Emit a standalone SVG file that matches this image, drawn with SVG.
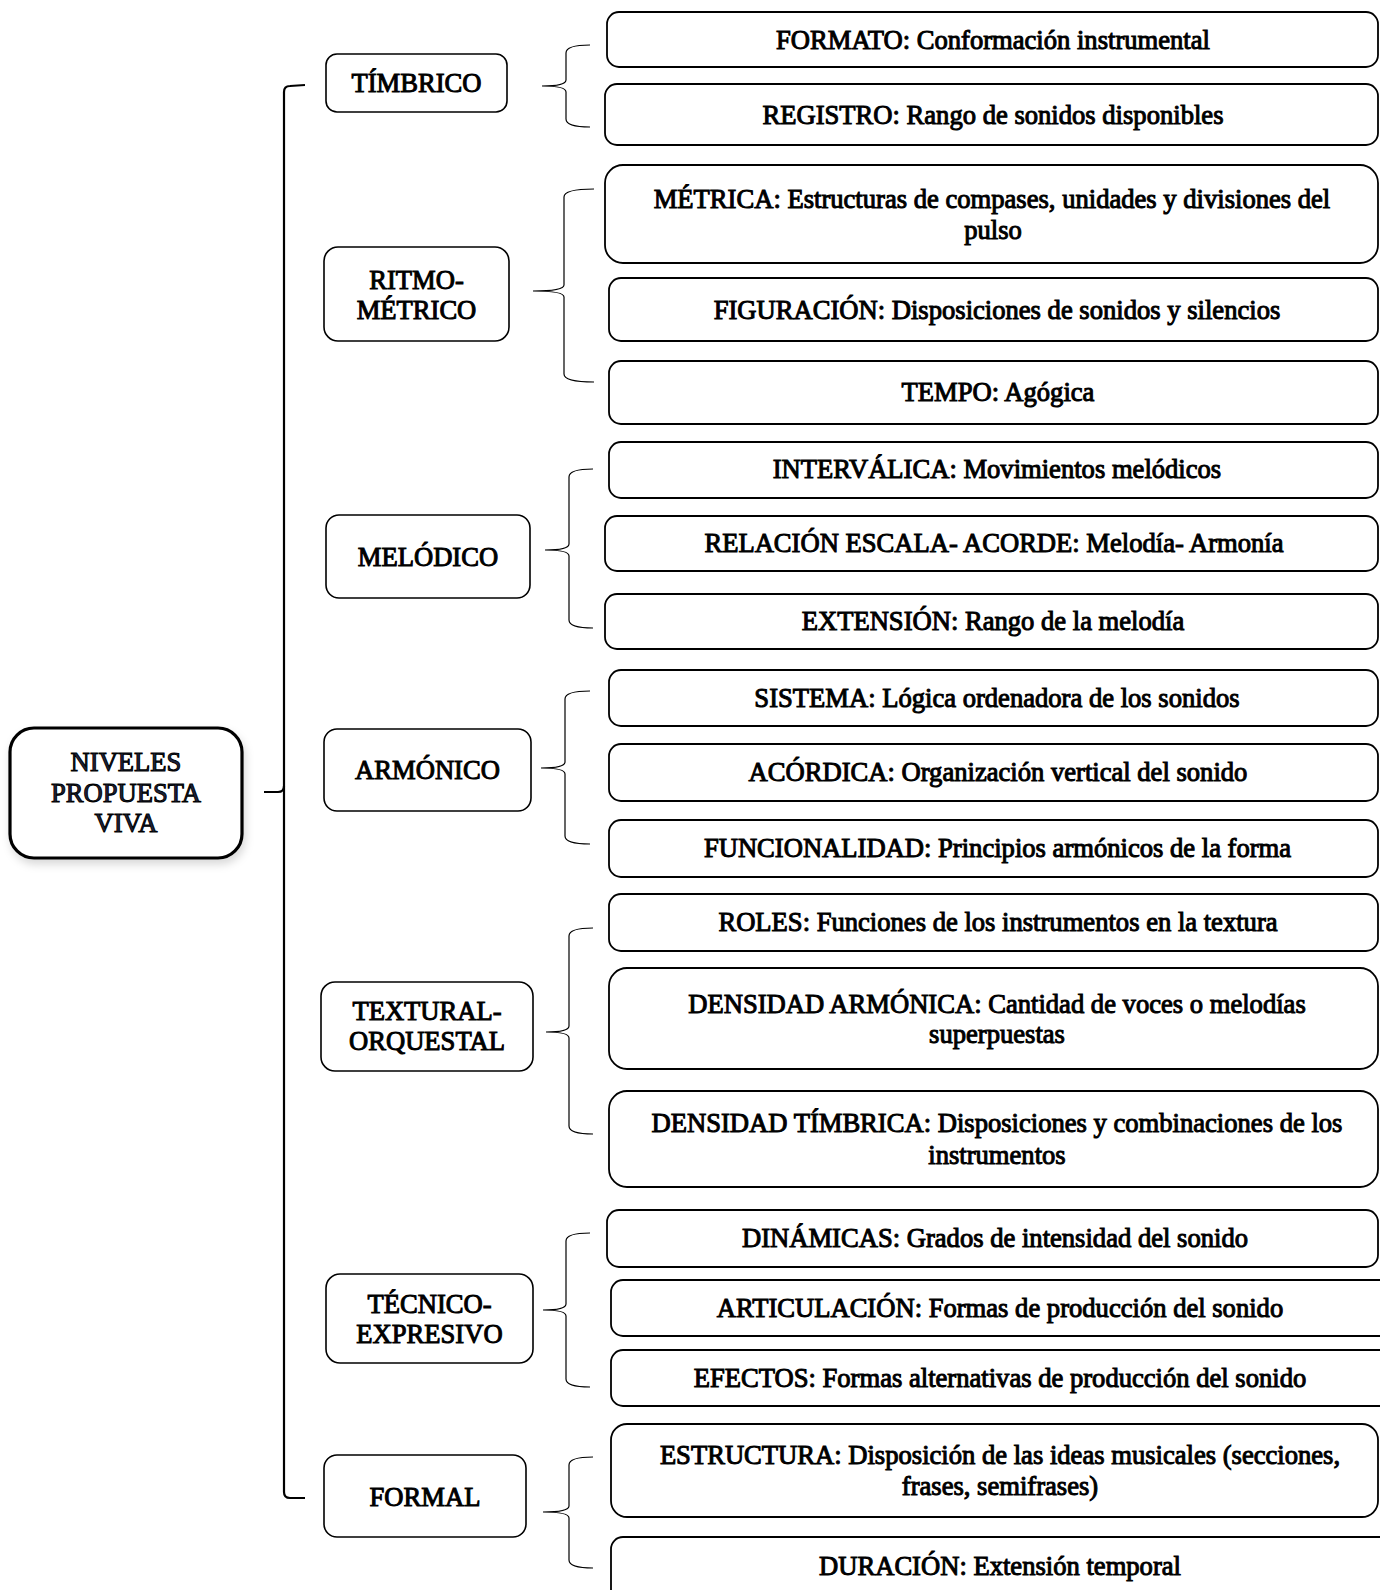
<svg xmlns="http://www.w3.org/2000/svg" width="1380" height="1590" viewBox="0 0 1380 1590">
<defs>
<filter id="sh" x="-10%" y="-10%" width="130%" height="130%">
<feDropShadow dx="2" dy="5" stdDeviation="4" flood-color="#000" flood-opacity="0.15"/>
</filter>
<style>
.t{font-family:"Liberation Serif","Times New Roman",serif;font-size:26.6px;fill:#000;stroke:#000;stroke-width:1;text-anchor:middle}
.r{fill:#1b2540}
.b2{fill:#fff;stroke:#000;stroke-width:1.6}
.lf{fill:#fff;stroke:#000;stroke-width:1.8}
.root{fill:#fff;stroke:#000;stroke-width:3.2}
.br{fill:none;stroke:#000;stroke-width:1.2}
.mb{fill:none;stroke:#000;stroke-width:2.2}
</style>
</defs>
<rect width="1380" height="1590" fill="#fff"/>

<g id="connectors">
<path class="mb" d="M305,85 L290,86 Q284,86 284,92 L284,1492 Q284,1498 290,1498 L305,1498"/>
<path class="mb" d="M264,792 L278,792 Q284,792 284,786"/>
<path class="br" d="M590,45 Q566,45 566,53 L566,80 Q566,86 542,86 Q566,86 566,92 L566,119 Q566,127 590,127"/>
<path class="br" d="M594,189 Q564,189 564,197 L564,285 Q564,291 533,291 Q564,291 564,297 L564,374 Q564,382 594,382"/>
<path class="br" d="M593,469 Q569,469 569,477 L569,544 Q569,550 545,550 Q569,550 569,556 L569,620 Q569,628 593,628"/>
<path class="br" d="M590,691 Q565,691 565,699 L565,762 Q565,768 541,768 Q565,768 565,774 L565,836 Q565,844 590,844"/>
<path class="br" d="M593,928 Q569,928 569,936 L569,1026 Q569,1032 546,1032 Q569,1032 569,1038 L569,1126 Q569,1134 593,1134"/>
<path class="br" d="M590,1233 Q566,1233 566,1241 L566,1304 Q566,1310 543,1310 Q566,1310 566,1316 L566,1379 Q566,1387 590,1387"/>
<path class="br" d="M593,1457 Q569,1457 569,1465 L569,1506 Q569,1512 543,1512 Q569,1512 569,1518 L569,1560 Q569,1568 593,1568"/>
</g>

<g id="root">
<rect class="root" x="10" y="728" width="232" height="130" rx="24" filter="url(#sh)"/>
<text class="t r" x="126" y="771">NIVELES</text>
<text class="t r" x="126" y="802">PROPUESTA</text>
<text class="t r" x="126" y="832">VIVA</text>
</g>

<g id="timbrico">
<rect class="b2" x="326" y="54" width="181" height="58" rx="11"/>
<text class="t" x="416.5" y="92">TÍMBRICO</text>
</g>
<g id="ritmo">
<rect class="b2" x="324" y="247" width="185" height="94" rx="14"/>
<text class="t" x="416.5" y="289">RITMO-</text>
<text class="t" x="416.5" y="319">MÉTRICO</text>
</g>
<g id="melodico">
<rect class="b2" x="326" y="515" width="204" height="83" rx="13"/>
<text class="t" x="428" y="566">MELÓDICO</text>
</g>
<g id="armonico">
<rect class="b2" x="324" y="729" width="207" height="82" rx="13"/>
<text class="t" x="427.5" y="779">ARMÓNICO</text>
</g>
<g id="textural">
<rect class="b2" x="321" y="982" width="212" height="89" rx="14"/>
<text class="t" x="427" y="1020">TEXTURAL-</text>
<text class="t" x="427" y="1050">ORQUESTAL</text>
</g>
<g id="tecnico">
<rect class="b2" x="326" y="1274" width="207" height="89" rx="14"/>
<text class="t" x="429.5" y="1313">TÉCNICO-</text>
<text class="t" x="429.5" y="1343">EXPRESIVO</text>
</g>
<g id="formal">
<rect class="b2" x="324" y="1455" width="202" height="82" rx="13"/>
<text class="t" x="425" y="1506">FORMAL</text>
</g>

<g id="formato">
<rect class="lf" x="607" y="12" width="771" height="55" rx="12"/>
<text class="t" x="993" y="49">FORMATO: Conformación instrumental</text>
</g>
<g id="registro">
<rect class="lf" x="605" y="84" width="773" height="61" rx="12"/>
<text class="t" x="993" y="124">REGISTRO: Rango de sonidos disponibles</text>
</g>
<g id="metrica">
<rect class="lf" x="605" y="165" width="773" height="98" rx="18"/>
<text class="t" x="992" y="208">MÉTRICA: Estructuras de compases, unidades y divisiones del</text>
<text class="t" x="993" y="239">pulso</text>
</g>
<g id="figuracion">
<rect class="lf" x="609" y="278" width="769" height="63" rx="12"/>
<text class="t" x="997" y="319">FIGURACIÓN: Disposiciones de sonidos y silencios</text>
</g>
<g id="tempo">
<rect class="lf" x="609" y="361" width="769" height="63" rx="12"/>
<text class="t" x="998" y="401">TEMPO: Agógica</text>
</g>
<g id="intervalica">
<rect class="lf" x="609" y="442" width="769" height="56" rx="12"/>
<text class="t" x="997" y="478">INTERVÁLICA: Movimientos melódicos</text>
</g>
<g id="relacion">
<rect class="lf" x="605" y="516" width="773" height="55" rx="12"/>
<text class="t" x="994" y="552">RELACIÓN ESCALA- ACORDE: Melodía- Armonía</text>
</g>
<g id="extension">
<rect class="lf" x="605" y="594" width="773" height="55" rx="12"/>
<text class="t" x="993" y="630">EXTENSIÓN: Rango de la melodía</text>
</g>
<g id="sistema">
<rect class="lf" x="609" y="670" width="769" height="56" rx="12"/>
<text class="t" x="997" y="707">SISTEMA: Lógica ordenadora de los sonidos</text>
</g>
<g id="acordica">
<rect class="lf" x="609" y="744" width="769" height="57" rx="12"/>
<text class="t" x="998" y="781">ACÓRDICA: Organización vertical del sonido</text>
</g>
<g id="funcionalidad">
<rect class="lf" x="609" y="820" width="769" height="57" rx="12"/>
<text class="t" x="997.5" y="857">FUNCIONALIDAD: Principios armónicos de la forma</text>
</g>
<g id="roles">
<rect class="lf" x="609" y="894" width="769" height="57" rx="12"/>
<text class="t" x="998" y="931">ROLES: Funciones de los instrumentos en la textura</text>
</g>
<g id="densidad-armonica">
<rect class="lf" x="609" y="968" width="769" height="101" rx="18"/>
<text class="t" x="997" y="1013">DENSIDAD ARMÓNICA: Cantidad de voces o melodías</text>
<text class="t" x="997" y="1043">superpuestas</text>
</g>
<g id="densidad-timbrica">
<rect class="lf" x="609" y="1091" width="769" height="96" rx="18"/>
<text class="t" x="997" y="1132">DENSIDAD TÍMBRICA: Disposiciones y combinaciones de los</text>
<text class="t" x="997" y="1164">instrumentos</text>
</g>
<g id="dinamicas">
<rect class="lf" x="607" y="1210" width="771" height="57" rx="12"/>
<text class="t" x="995" y="1247">DINÁMICAS: Grados de intensidad del sonido</text>
</g>
<g id="articulacion">
<rect class="lf" x="611" y="1280" width="790" height="56" rx="12"/>
<text class="t" x="1000" y="1317">ARTICULACIÓN: Formas de producción del sonido</text>
</g>
<g id="efectos">
<rect class="lf" x="611" y="1350" width="790" height="56" rx="12"/>
<text class="t" x="1000" y="1387">EFECTOS: Formas alternativas de producción del sonido</text>
</g>
<g id="estructura">
<rect class="lf" x="611" y="1424" width="767" height="93" rx="16"/>
<text class="t" x="1000" y="1464">ESTRUCTURA: Disposición de las ideas musicales (secciones,</text>
<text class="t" x="1000" y="1495">frases, semifrases)</text>
</g>
<g id="duracion">
<rect class="lf" x="611" y="1537" width="790" height="80" rx="12"/>
<text class="t" x="1000" y="1575">DURACIÓN: Extensión temporal</text>
</g>
</svg>
